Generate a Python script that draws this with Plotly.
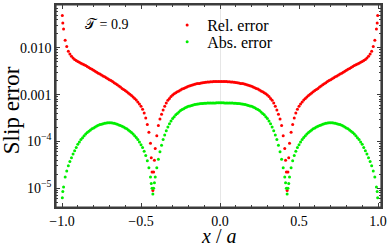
import plotly.graph_objects as go

# positions x/a
x_left = [-0.998, -0.995, -0.99, -0.98, -0.97, -0.96, -0.95, -0.94, -0.93, -0.92, -0.91,
          -0.90, -0.89, -0.88, -0.87, -0.86, -0.85, -0.84, -0.83, -0.82, -0.81,
          -0.80, -0.79, -0.78, -0.77, -0.76, -0.75, -0.74, -0.73, -0.72, -0.71,
          -0.70, -0.69, -0.68, -0.67, -0.66, -0.65, -0.64, -0.63, -0.62, -0.61,
          -0.60, -0.59, -0.58, -0.57, -0.56, -0.55, -0.54, -0.53, -0.52, -0.51,
          -0.50, -0.49, -0.48, -0.47, -0.46, -0.45, -0.44, -0.435, -0.43, -0.425,
          -0.42, -0.415, -0.41, -0.40, -0.39, -0.38, -0.37, -0.36, -0.35, -0.34,
          -0.33, -0.32, -0.31, -0.30, -0.29, -0.28, -0.27, -0.26, -0.25, -0.24,
          -0.23, -0.22, -0.21, -0.20, -0.19, -0.18, -0.17, -0.16, -0.15, -0.14,
          -0.13, -0.12, -0.11, -0.10, -0.09, -0.08, -0.07, -0.06, -0.05, -0.04,
          -0.03, -0.02, -0.01]
x_mid = [0.0]
x_right = [0.01, 0.02, 0.03, 0.04, 0.05, 0.06, 0.07, 0.08, 0.09, 0.10,
           0.11, 0.12, 0.13, 0.14, 0.15, 0.16, 0.17, 0.18, 0.19, 0.20,
           0.21, 0.22, 0.23, 0.24, 0.25, 0.26, 0.27, 0.28, 0.29, 0.30,
           0.31, 0.32, 0.33, 0.34, 0.35, 0.36, 0.37, 0.38, 0.39, 0.40,
           0.41, 0.415, 0.42, 0.425, 0.43, 0.435, 0.44, 0.45, 0.46, 0.47,
           0.48, 0.49, 0.50, 0.51, 0.52, 0.53, 0.54, 0.55, 0.56, 0.57,
           0.58, 0.59, 0.60, 0.61, 0.62, 0.63, 0.64, 0.65, 0.66, 0.67,
           0.68, 0.69, 0.70, 0.71, 0.72, 0.73, 0.74, 0.75, 0.76, 0.77,
           0.78, 0.79, 0.80, 0.81, 0.82, 0.83, 0.84, 0.85, 0.86, 0.87,
           0.88, 0.89, 0.90, 0.91, 0.92, 0.93, 0.94, 0.95, 0.96, 0.97,
           0.98, 0.99, 0.995, 0.998]
x_vals = x_left + x_mid + x_right

# relative error
rel_left = [4.90e-2, 3.39e-2, 2.51e-2, 1.445e-2, 1.072e-2, 8.41e-3, 7.41e-3, 6.61e-3, 6.10e-3, 5.62e-3, 5.37e-3,
            5.13e-3, 4.90e-3, 4.68e-3, 4.52e-3, 4.37e-3, 4.17e-3, 3.98e-3, 3.80e-3, 3.63e-3, 3.47e-3,
            3.31e-3, 3.16e-3, 3.02e-3, 2.88e-3, 2.75e-3, 2.63e-3, 2.51e-3, 2.40e-3, 2.29e-3, 2.19e-3,
            2.09e-3, 2.00e-3, 1.91e-3, 1.80e-3, 1.70e-3, 1.62e-3, 1.53e-3, 1.45e-3, 1.36e-3, 1.29e-3,
            1.22e-3, 1.15e-3, 1.08e-3, 1.02e-3, 9.55e-4, 8.91e-4, 8.32e-4, 7.67e-4, 7.00e-4, 6.31e-4,
            5.62e-4, 4.90e-4, 4.07e-4, 3.16e-4, 2.29e-4, 1.58e-4, 9.12e-5, 4.47e-5, 2.24e-5, 8.91e-6,
            2.24e-5, 3.98e-5, 7.08e-5, 1.32e-4, 2.19e-4, 3.02e-4, 3.80e-4, 4.68e-4, 5.62e-4, 6.61e-4,
            7.59e-4, 8.32e-4, 9.12e-4, 9.77e-4, 1.04e-3, 1.10e-3, 1.15e-3, 1.20e-3, 1.26e-3, 1.32e-3,
            1.36e-3, 1.41e-3, 1.46e-3, 1.51e-3, 1.55e-3, 1.58e-3, 1.62e-3, 1.66e-3, 1.70e-3, 1.72e-3,
            1.74e-3, 1.78e-3, 1.80e-3, 1.82e-3, 1.84e-3, 1.86e-3, 1.87e-3, 1.88e-3, 1.89e-3, 1.90e-3,
            1.90e-3, 1.905e-3, 1.905e-3]
rel_mid = [1.905e-3]
rel_right = [1.905e-3, 1.905e-3, 1.90e-3, 1.90e-3, 1.89e-3, 1.88e-3, 1.87e-3, 1.86e-3, 1.84e-3, 1.82e-3,
             1.80e-3, 1.78e-3, 1.74e-3, 1.72e-3, 1.70e-3, 1.66e-3, 1.62e-3, 1.58e-3, 1.55e-3, 1.51e-3,
             1.46e-3, 1.41e-3, 1.36e-3, 1.32e-3, 1.26e-3, 1.20e-3, 1.15e-3, 1.10e-3, 1.04e-3, 9.77e-4,
             9.12e-4, 8.32e-4, 7.59e-4, 6.61e-4, 5.62e-4, 4.68e-4, 3.80e-4, 3.02e-4, 2.19e-4, 1.32e-4,
             7.08e-5, 3.98e-5, 2.24e-5, 8.91e-6, 2.24e-5, 4.47e-5, 9.12e-5, 1.58e-4, 2.29e-4, 3.16e-4,
             4.07e-4, 4.90e-4, 5.62e-4, 6.31e-4, 7.00e-4, 7.67e-4, 8.32e-4, 8.91e-4, 9.55e-4, 1.02e-3,
             1.08e-3, 1.15e-3, 1.22e-3, 1.29e-3, 1.36e-3, 1.45e-3, 1.53e-3, 1.62e-3, 1.70e-3, 1.80e-3,
             1.91e-3, 2.00e-3, 2.09e-3, 2.19e-3, 2.29e-3, 2.40e-3, 2.51e-3, 2.63e-3, 2.75e-3, 2.88e-3,
             3.02e-3, 3.16e-3, 3.31e-3, 3.47e-3, 3.63e-3, 3.80e-3, 3.98e-3, 4.17e-3, 4.37e-3, 4.52e-3,
             4.68e-3, 4.90e-3, 5.13e-3, 5.37e-3, 5.62e-3, 6.10e-3, 6.61e-3, 7.41e-3, 8.41e-3, 1.072e-2,
             1.445e-2, 2.51e-2, 3.39e-2, 4.90e-2]
rel_err = rel_left + rel_mid + rel_right

# absolute error
abs_left = [6.3e-6, 8.5e-6, 1.07e-5, 1.74e-5, 2.34e-5, 3.02e-5, 3.72e-5, 4.47e-5, 5.37e-5, 6.31e-5, 7.41e-5,
            8.71e-5, 9.77e-5, 1.10e-4, 1.20e-4, 1.32e-4, 1.45e-4, 1.55e-4, 1.66e-4, 1.76e-4, 1.86e-4,
            1.95e-4, 2.04e-4, 2.14e-4, 2.21e-4, 2.29e-4, 2.34e-4, 2.40e-4, 2.45e-4, 2.48e-4, 2.51e-4,
            2.51e-4, 2.51e-4, 2.48e-4, 2.45e-4, 2.40e-4, 2.34e-4, 2.26e-4, 2.19e-4, 2.11e-4, 2.04e-4,
            1.95e-4, 1.86e-4, 1.76e-4, 1.66e-4, 1.55e-4, 1.45e-4, 1.33e-4, 1.22e-4, 1.10e-4, 9.77e-5,
            8.51e-5, 7.41e-5, 6.17e-5, 5.01e-5, 3.89e-5, 2.75e-5, 1.74e-5, 1.26e-5, 1.00e-5, 7.59e-6,
            1.00e-5, 1.32e-5, 1.74e-5, 2.75e-5, 4.17e-5, 6.03e-5, 8.32e-5, 1.10e-4, 1.38e-4, 1.70e-4,
            2.04e-4, 2.40e-4, 2.75e-4, 3.09e-4, 3.39e-4, 3.72e-4, 3.98e-4, 4.27e-4, 4.57e-4, 4.79e-4,
            5.01e-4, 5.25e-4, 5.43e-4, 5.62e-4, 5.75e-4, 5.89e-4, 6.03e-4, 6.17e-4, 6.24e-4, 6.31e-4,
            6.38e-4, 6.46e-4, 6.50e-4, 6.55e-4, 6.58e-4, 6.61e-4, 6.62e-4, 6.64e-4, 6.65e-4, 6.67e-4,
            6.67e-4, 6.68e-4, 6.68e-4]
abs_mid = [6.68e-4]
abs_right = [6.68e-4, 6.68e-4, 6.67e-4, 6.67e-4, 6.65e-4, 6.64e-4, 6.62e-4, 6.61e-4, 6.58e-4, 6.55e-4,
             6.50e-4, 6.46e-4, 6.38e-4, 6.31e-4, 6.24e-4, 6.17e-4, 6.03e-4, 5.89e-4, 5.75e-4, 5.62e-4,
             5.43e-4, 5.25e-4, 5.01e-4, 4.79e-4, 4.57e-4, 4.27e-4, 3.98e-4, 3.72e-4, 3.39e-4, 3.09e-4,
             2.75e-4, 2.40e-4, 2.04e-4, 1.70e-4, 1.38e-4, 1.10e-4, 8.32e-5, 6.03e-5, 4.17e-5, 2.75e-5,
             1.74e-5, 1.32e-5, 1.00e-5, 7.59e-6, 1.00e-5, 1.26e-5, 1.74e-5, 2.75e-5, 3.89e-5, 5.01e-5,
             6.17e-5, 7.41e-5, 8.51e-5, 9.77e-5, 1.10e-4, 1.22e-4, 1.33e-4, 1.45e-4, 1.55e-4, 1.66e-4,
             1.76e-4, 1.86e-4, 1.95e-4, 2.04e-4, 2.11e-4, 2.19e-4, 2.26e-4, 2.34e-4, 2.40e-4, 2.45e-4,
             2.48e-4, 2.51e-4, 2.51e-4, 2.51e-4, 2.48e-4, 2.45e-4, 2.40e-4, 2.34e-4, 2.29e-4, 2.21e-4,
             2.14e-4, 2.04e-4, 1.95e-4, 1.86e-4, 1.76e-4, 1.66e-4, 1.55e-4, 1.45e-4, 1.32e-4, 1.20e-4,
             1.10e-4, 9.77e-5, 8.71e-5, 7.41e-5, 6.31e-5, 5.37e-5, 4.47e-5, 3.72e-5, 3.02e-5, 2.34e-5,
             1.74e-5, 1.07e-5, 8.5e-6, 6.3e-6]
abs_err = abs_left + abs_mid + abs_right

x_tickvals = [-1.0, -0.5, 0.0, 0.5, 1.0]
x_ticktext = ["\u22121.0", "\u22120.5", "0.0", "0.5", "1.0"]
y_tickvals = [1e-5, 1e-4, 1e-3, 1e-2]
y_ticktext = ["10<sup>\u22125</sup>", "10<sup>\u22124</sup>", "0.001", "0.010"]
series_names = ["Rel. error", "Abs. error"]
series_colors = ["#ff0000", "#00ee00"]

SERIF = "Liberation Serif"
FRAME = "#3c3c3c"

fig = go.Figure()
for name, yv, col, lg in zip(series_names, [rel_err, abs_err], series_colors, ["legend", "legend2"]):
    fig.add_trace(go.Scatter(x=x_vals, y=yv, mode="markers", name=name, legend=lg,
                             marker=dict(color=col, size=3.0, line=dict(width=0))))

y_minor = [k * 10.0 ** d for d in range(-6, 0) for k in range(2, 10)]

leg_common = dict(xanchor="left", yanchor="middle", bgcolor="rgba(0,0,0,0)",
                  font=dict(family=SERIF, size=16, color="black"), itemwidth=30,
                  borderwidth=0)

fig.update_layout(
    width=390, height=248,
    margin=dict(l=56, r=9, t=5, b=41, autoexpand=False),
    paper_bgcolor="white", plot_bgcolor="white",
    font=dict(family=SERIF, size=14, color="black"),
    showlegend=True,
    legend=dict(x=0.342, y=0.90, **leg_common),
    legend2=dict(x=0.342, y=0.817, **leg_common),
    xaxis=dict(range=[-1.038, 1.019], tickvals=x_tickvals, ticktext=x_ticktext,
               automargin=False,
               ticks="inside", ticklen=4, tickwidth=1, tickcolor=FRAME,
               minor=dict(dtick=0.1, tick0=0, ticks="inside", ticklen=2.5, tickcolor=FRAME),
               showline=True, linecolor=FRAME, linewidth=1.5, mirror="allticks",
               showgrid=False, zeroline=True, zerolinecolor="#e6e6e6", zerolinewidth=1,
               tickfont=dict(family=SERIF, size=14, color="black")),
    yaxis=dict(type="log", range=[-5.40, -1.085], tickvals=y_tickvals, ticktext=y_ticktext,
               automargin=False,
               ticks="inside", ticklen=4, tickwidth=1, tickcolor=FRAME,
               minor=dict(tickvals=y_minor, ticks="inside", ticklen=2.5, tickcolor=FRAME),
               showline=True, linecolor=FRAME, linewidth=1.5, mirror="allticks",
               showgrid=False, zeroline=False,
               tickfont=dict(family=SERIF, size=14, color="black")),
    shapes=[dict(type="rect", xref="paper", yref="paper", x0=0, y0=0, x1=1, y1=1,
                 line=dict(color=FRAME, width=1.2), fillcolor="rgba(0,0,0,0)", layer="above")],
    annotations=[
        dict(text="\U0001D4AF = 0.9", xref="paper", yref="paper", x=0.083, y=0.905,
             xanchor="left", yanchor="middle", showarrow=False,
             font=dict(family=SERIF, size=14, color="black")),
        dict(text="<i>x</i> / <i>a</i>", xref="paper", yref="paper", x=0.5, y=-0.145,
             xanchor="center", yanchor="middle", showarrow=False,
             font=dict(family=SERIF, size=20, color="black")),
        dict(text="Slip error", xref="paper", yref="paper", x=-0.138, y=0.48,
             xanchor="center", yanchor="middle", textangle=-90, showarrow=False,
             font=dict(family=SERIF, size=23, color="black")),
    ],
)

fig.write_html("out.html", config={"displayModeBar": False},
               post_script="document.body.style.margin='0';document.body.style.padding='0';")
